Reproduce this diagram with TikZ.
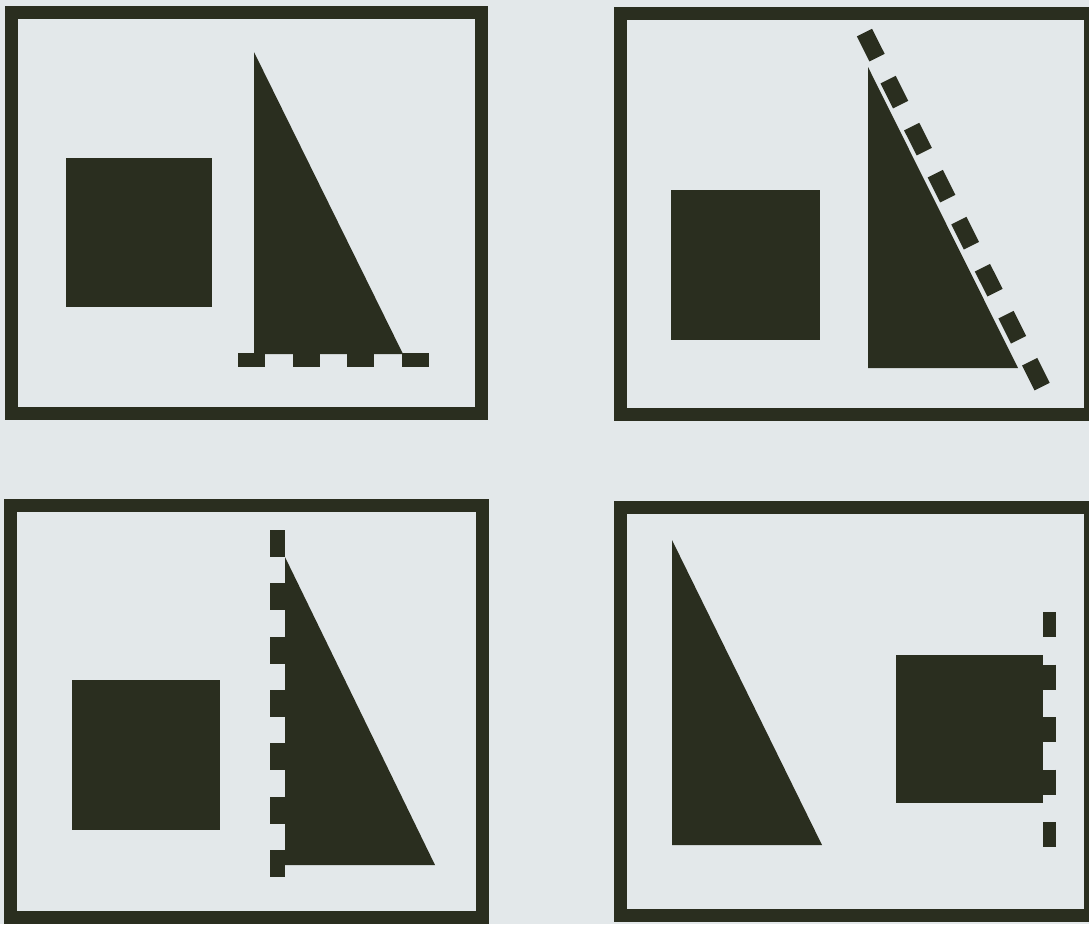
\documentclass[tikz,border=0pt]{standalone}
\begin{document}
\begin{tikzpicture}[x=1pt,y=-1pt,
  framebox/.style={draw=ink,line width=13pt},
  solid shape/.style={fill=ink},
  dashrow/.style={draw=ink,line cap=butt}]
\definecolor{ink}{HTML}{2A2E1F}
\definecolor{paper}{HTML}{E3E8EA}
\fill[paper] (0,0) rectangle (1089,924);
\useasboundingbox (0,0) rectangle (1089,924);
% panel 1 (top left)
\draw[framebox] (11,12) rectangle (481,413);
\fill[solid shape] (66,158) rectangle (212,307);
\fill[solid shape] (254,52) -- (254,354) -- (403,354) -- cycle;
\draw[dashrow,line width=14pt,dash pattern=on 27pt off 27.7pt] (238,360) -- (429,360);
% panel 2 (top right)
\draw[framebox] (620,13.5) rectangle (1090,414);
\fill[solid shape] (671,190) rectangle (820,340);
\fill[solid shape] (868,67) -- (868,368) -- (1018,368) -- cycle;
\draw[dashrow,line width=17pt,dash pattern=on 28pt off 24.6pt] (864.5,32.6) -- (1042.1,386.6);
% panel 3 (bottom left)
\draw[framebox] (10,505) rectangle (482,917);
\fill[solid shape] (72,680) rectangle (220,830);
\fill[solid shape] (285,557) -- (285,865) -- (435,865) -- cycle;
\draw[dashrow,line width=15pt,dash pattern=on 27pt off 26.3pt] (277.5,530) -- (277.5,877);
% panel 4 (bottom right)
\draw[framebox] (620,507) rectangle (1090,915);
\fill[solid shape] (672,540) -- (672,845) -- (822,845) -- cycle;
\fill[solid shape] (896,655) rectangle (1043,803);
\draw[dashrow,line width=13pt,dash pattern=on 25pt off 27.5pt] (1049.5,612) -- (1049.5,847);
\end{tikzpicture}
\end{document}
